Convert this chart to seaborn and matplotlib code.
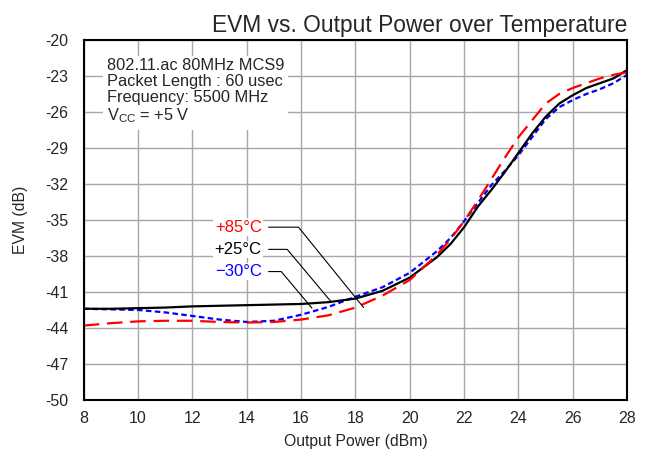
import matplotlib
matplotlib.use("Agg")
import matplotlib.pyplot as plt
import pandas as pd
import seaborn as sns

# output power (dBm)
POWER = [8, 9, 10, 11, 12, 13, 14, 15, 16, 17, 18, 19, 20,
         21, 21.5, 22, 22.5, 23, 23.5, 24, 24.5, 25, 25.5, 26, 26.5, 27, 27.5, 28]

# EVM (dB) per temperature
EVM_85 = [-43.8, -43.6, -43.45, -43.4, -43.4, -43.5, -43.55, -43.5, -43.3, -42.95, -42.3, -41.3, -40.0,
          -37.9, -36.6, -35.1, -33.4, -31.6, -29.8, -28.1, -26.7, -25.3, -24.5, -24.0, -23.6, -23.2, -22.9, -22.7]
EVM_25 = [-42.4, -42.4, -42.35, -42.3, -42.2, -42.15, -42.1, -42.05, -42.0, -41.85, -41.55, -40.9, -39.8,
          -38.1, -37.0, -35.6, -33.9, -32.5, -31.0, -29.4, -27.8, -26.4, -25.3, -24.6, -24.0, -23.6, -23.2, -22.5]
EVM_M30 = [-42.4, -42.45, -42.5, -42.7, -43.0, -43.3, -43.5, -43.4, -42.9, -42.25, -41.4, -40.6, -39.4,
           -37.6, -36.5, -35.1, -33.6, -32.1, -30.9, -29.6, -28.1, -26.6, -25.6, -25.0, -24.5, -24.1, -23.6, -22.9]

SERIES = ['+85°C', '+25°C', '\u221230°C']
COLORS = {'+85°C': '#ff0000', '+25°C': '#000000', '\u221230°C': '#0000ff'}
DASHES = {'+85°C': (7, 3.5), '+25°C': '', '\u221230°C': (2.5, 1.5)}

XTICKS = list(range(8, 29, 2))
YTICKS = list(range(-50, -19, 3))

INFO = '802.11.ac 80MHz MCS9\nPacket Length : 60 usec\nFrequency: 5500 MHz\nV$_{\\mathrm{CC}}$ = +5 V'


def build_frame():
    rows = []
    for name, vals in zip(SERIES, [EVM_85, EVM_25, EVM_M30]):
        for p, v in zip(POWER, vals):
            rows.append({'power': p, 'evm': v, 'temp': name})
    return pd.DataFrame(rows)


def main():
    sns.set_style('white')
    plt.rcParams['font.family'] = ['Liberation Sans', 'DejaVu Sans']
    plt.rcParams['mathtext.fontset'] = 'custom'
    plt.rcParams['mathtext.rm'] = 'Liberation Sans'
    plt.rcParams['axes.unicode_minus'] = False

    df = build_frame()
    fig, ax = plt.subplots(figsize=(6.54, 4.54), dpi=100)
    fig.subplots_adjust(left=0.128, right=0.959, top=0.912, bottom=0.119)

    sns.lineplot(data=df, x='power', y='evm', hue='temp', style='temp',
                 hue_order=SERIES[::-1], style_order=SERIES[::-1],
                 palette=COLORS, dashes=DASHES, linewidth=1.6, ax=ax, legend=False)

    ax.set_xlim(8, 28)
    ax.set_ylim(-50, -20)
    ax.set_xticks(XTICKS)
    ax.set_yticks(YTICKS)
    ax.grid(True, color='#a8a8a8', linewidth=1.0)
    ax.set_axisbelow(True)
    for s in ax.spines.values():
        s.set_color('black')
        s.set_linewidth(1.5)
    ax.tick_params(length=0, labelsize=11.5)
    ax.tick_params(axis='x', pad=8)
    ax.tick_params(axis='y', pad=11)
    ax.set_xlabel('Output Power (dBm)', fontsize=11.3, labelpad=6)
    ax.set_ylabel('EVM (dB)', fontsize=11.3, labelpad=12)
    ax.set_title('EVM vs. Output Power over Temperature', fontsize=16.4, loc='right', pad=6)

    ax.text(8.85, -21.5, INFO, fontsize=11.8, va='top', ha='left', linespacing=1.1,
            bbox=dict(facecolor='white', edgecolor='none', pad=3), zorder=5)

    # leader lines to the curves
    labels = [('+85°C', 18.3, -42.3, -35.6, -51),
              ('+25°C', 17.1, -41.8, -37.45, -50),
              ('\u221230°C', 16.4, -42.35, -39.3, -50)]
    for name, px, py, ty, ang in labels:
        ax.annotate(name, xy=(px, py), xytext=(14.55, ty), ha='right', va='center',
                    fontsize=12, color=COLORS[name],
                    bbox=dict(facecolor='white', edgecolor='none', pad=1),
                    arrowprops=dict(arrowstyle='-', color='black', lw=0.8, shrinkA=4, shrinkB=0,
                                    connectionstyle=f'angle,angleA=0,angleB={ang},rad=0'),
                    zorder=6)

    fig.savefig('out.png', dpi=100)


main()
